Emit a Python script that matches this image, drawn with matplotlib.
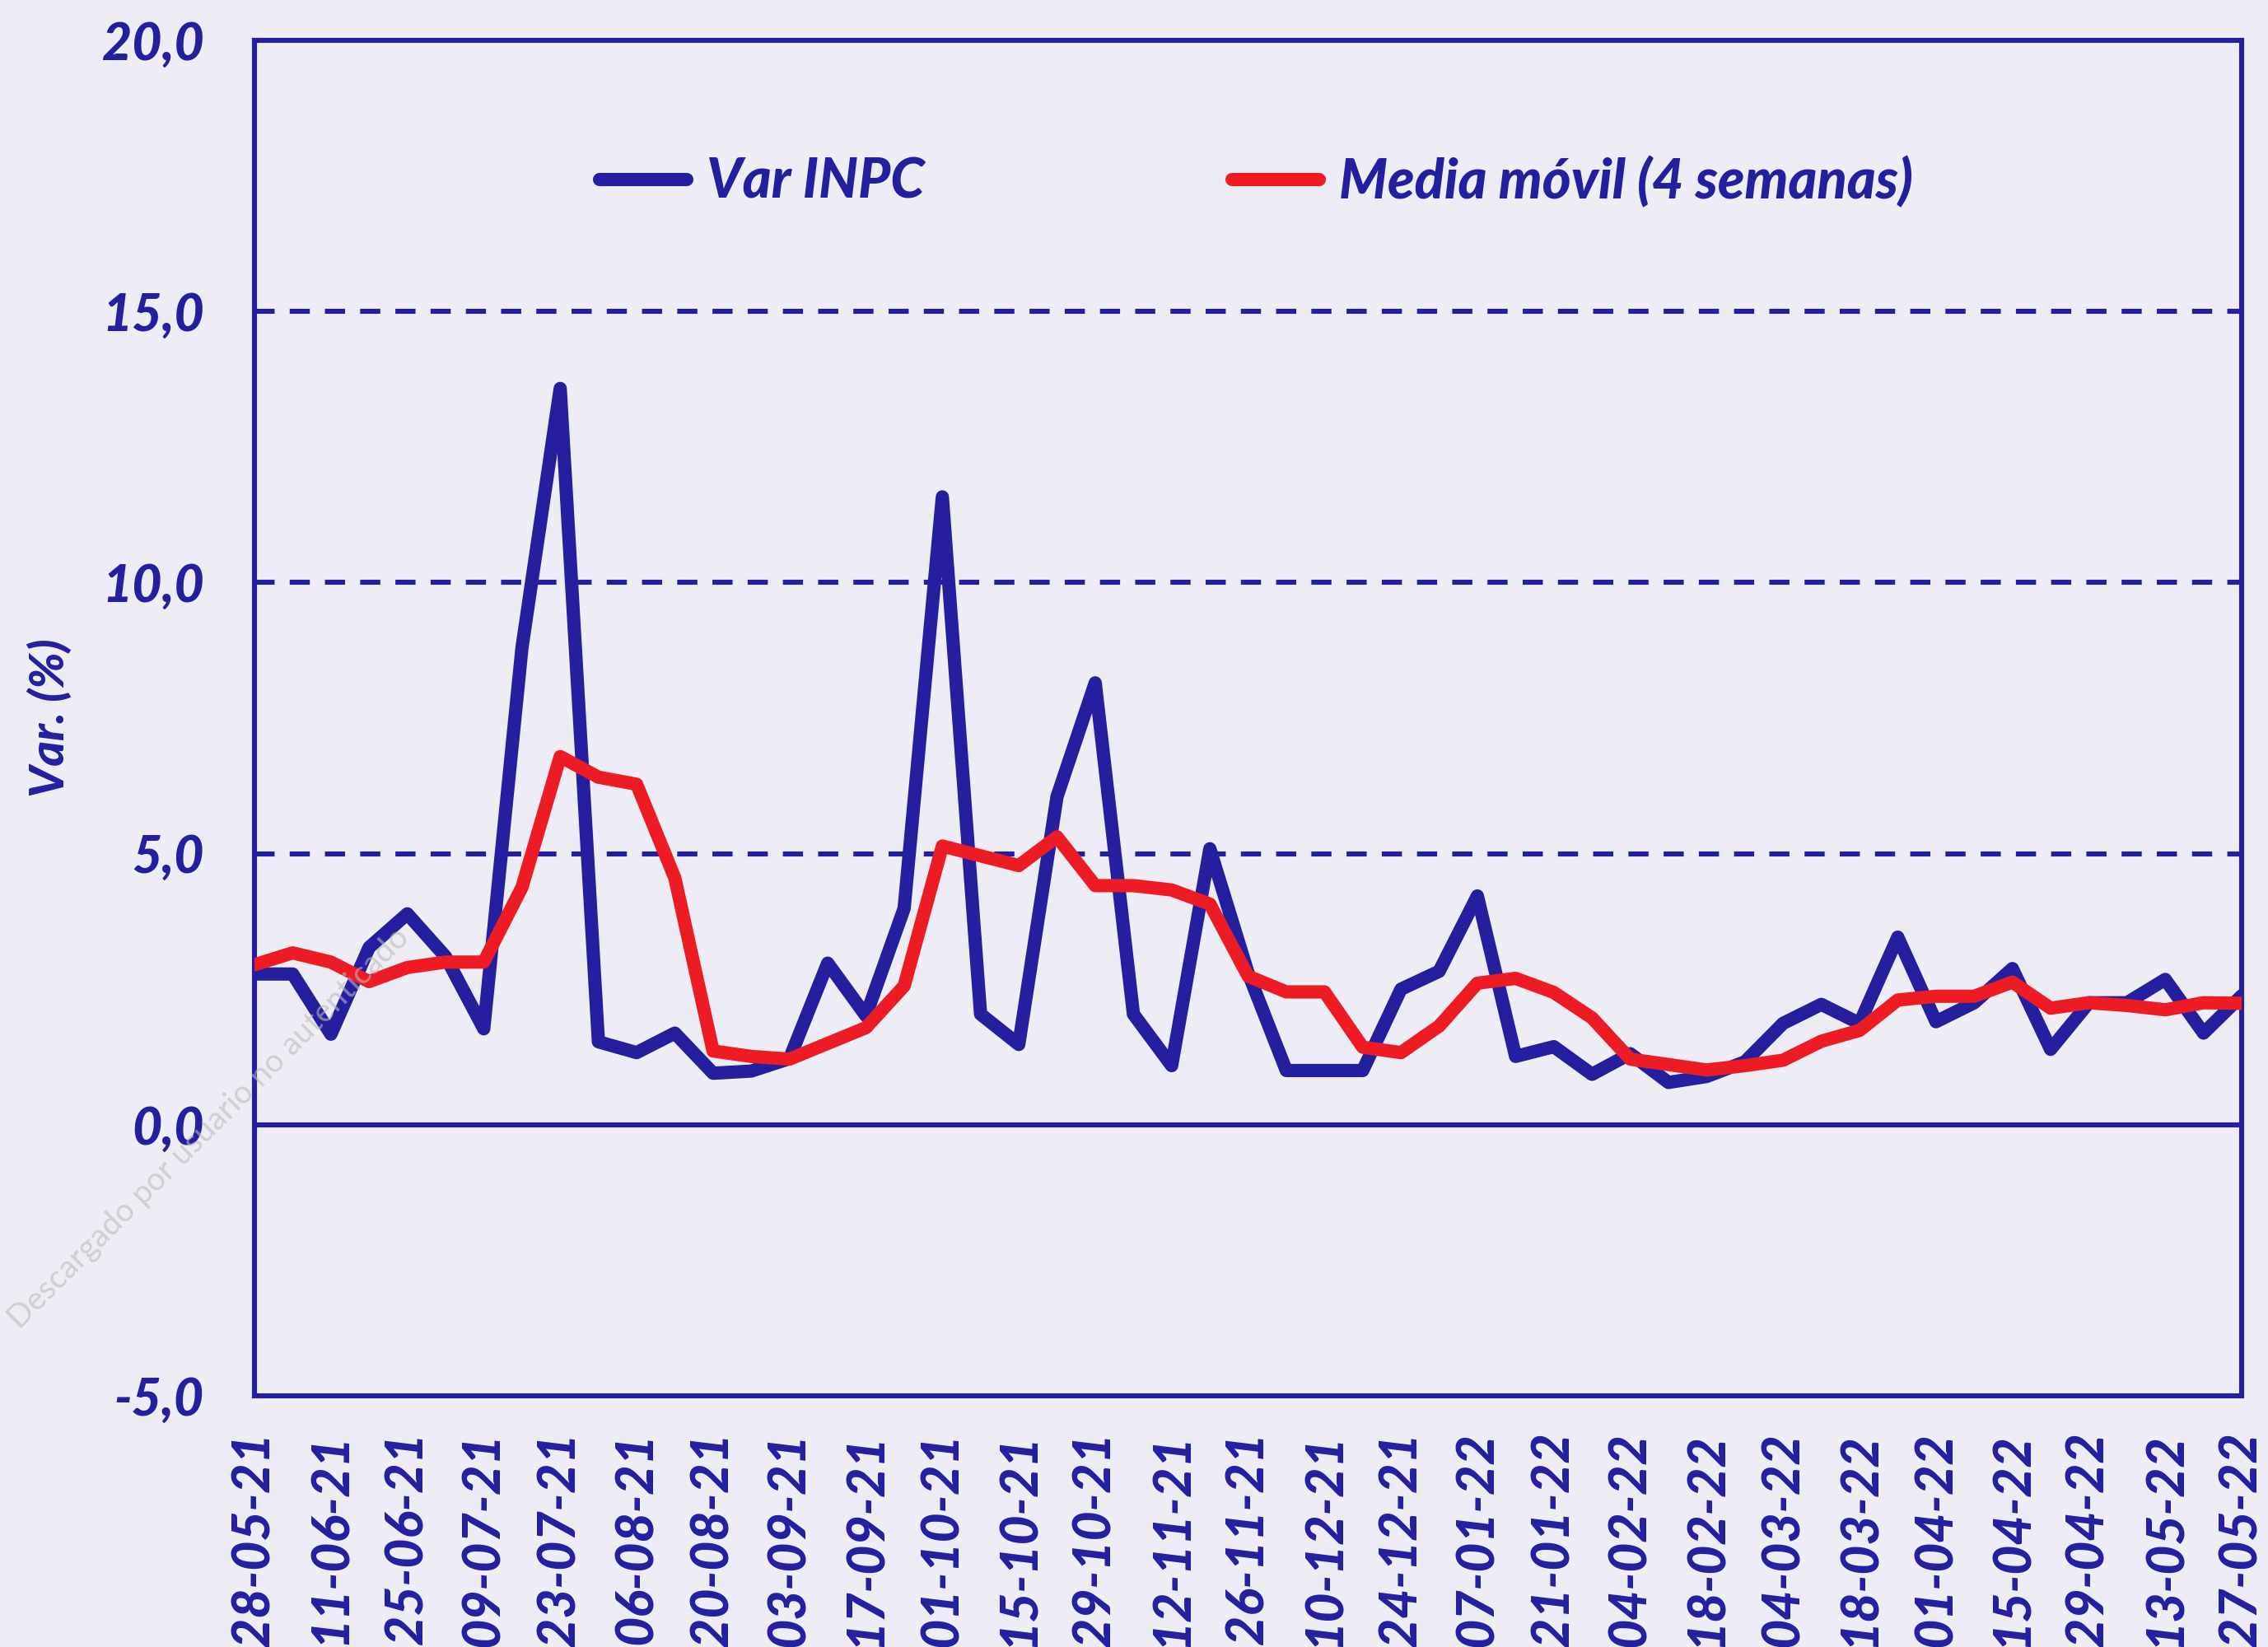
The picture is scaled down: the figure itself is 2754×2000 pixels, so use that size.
import matplotlib
matplotlib.use("Agg")
import matplotlib.pyplot as plt
import numpy as np

weeks = ["28-05-21","04-06-21","11-06-21","18-06-21","25-06-21","02-07-21","09-07-21","16-07-21",
         "23-07-21","30-07-21","06-08-21","13-08-21","20-08-21","27-08-21","03-09-21","10-09-21",
         "17-09-21","24-09-21","01-10-21","08-10-21","15-10-21","22-10-21","29-10-21","05-11-21",
         "12-11-21","19-11-21","26-11-21","03-12-21","10-12-21","17-12-21","24-12-21","31-12-21",
         "07-01-22","14-01-22","21-01-22","28-01-22","04-02-22","11-02-22","18-02-22","25-02-22",
         "04-03-22","11-03-22","18-03-22","25-03-22","01-04-22","08-04-22","15-04-22","22-04-22",
         "29-04-22","06-05-22","13-05-22","20-05-22","27-05-22"]

var_inpc = [2.78, 2.78, 1.67, 3.27, 3.89, 3.10, 1.77, 8.80, 13.58, 1.53, 1.33, 1.69, 0.95, 0.99,
            1.22, 2.98, 2.01, 3.99, 11.58, 2.04, 1.48, 6.05, 8.15, 2.04, 1.09, 5.09, 2.80, 1.00,
            1.00, 1.00, 2.50, 2.83, 4.22, 1.26, 1.44, 0.93, 1.31, 0.78, 0.89, 1.16, 1.87, 2.22,
            1.87, 3.46, 1.90, 2.25, 2.88, 1.39, 2.25, 2.25, 2.68, 1.69, 2.38]

media_movil = [2.95, 3.17, 3.00, 2.64, 2.90, 3.00, 3.00, 4.38, 6.79, 6.41, 6.28, 4.55, 1.36, 1.26,
               1.21, 1.50, 1.79, 2.56, 5.14, 4.96, 4.78, 5.31, 4.41, 4.41, 4.33, 4.07, 2.74, 2.45,
               2.45, 1.43, 1.33, 1.82, 2.61, 2.70, 2.44, 1.97, 1.21, 1.11, 1.01, 1.09, 1.19, 1.54,
               1.74, 2.30, 2.37, 2.37, 2.63, 2.15, 2.25, 2.20, 2.12, 2.25, 2.24]

yticks = [-5, 0, 5, 10, 15, 20]
ytick_labels = ["-5,0", "0,0", "5,0", "10,0", "15,0", "20,0"]

BLUE = "#231F9F"
RED = "#ED1C24"
BG = "#EEEDF6"

plt.rcParams['font.family'] = ['Lato', 'DejaVu Sans']

fig = plt.figure(figsize=(13.77, 10), dpi=200, facecolor=BG)
ax = fig.add_axes([0.1122, 0.1525, 0.8762, 0.823])
ax.set_facecolor(BG)

x = np.arange(len(weeks))
for yv in [5, 10, 15]:
    ax.axhline(yv, color=BLUE, lw=2.2, ls=(0, (4, 3)), zorder=1)
ax.axhline(0, color=BLUE, lw=2.2, zorder=1)

ax.plot(x, var_inpc, color=BLUE, lw=5.8, solid_joinstyle='round', solid_capstyle='round',
        label="Var INPC", zorder=3)
ax.plot(x, media_movil, color=RED, lw=5.8, solid_joinstyle='round', solid_capstyle='round',
        label="Media móvil (4 semanas)", zorder=4)

ax.set_xlim(0, len(weeks) - 1)
ax.set_ylim(-5, 20)
ax.set_yticks(yticks)
ax.set_yticklabels(ytick_labels)
ax.set_xticks(x[::2])
ax.set_xticklabels(weeks[::2], rotation=90)

for lab in ax.get_yticklabels() + ax.get_xticklabels():
    lab.set_fontweight('black')
    lab.set_fontstyle('italic')
    lab.set_color(BLUE)
    lab.set_fontsize(22.5)

ax.tick_params(axis='y', length=0, pad=22)
ax.tick_params(axis='x', length=0, pad=16)
for s in ax.spines.values():
    s.set_color(BLUE)
    s.set_linewidth(2.2)

ax.set_ylabel("Var. (%)", color=BLUE, fontsize=21, fontweight='black', fontstyle='italic',
              va='center')
ax.yaxis.set_label_coords(-0.1028, 0.5)

leg = ax.legend(loc='center', bbox_to_anchor=(0.504, 0.896), ncol=2, frameon=False,
                handlelength=1.6, handletextpad=0.35, columnspacing=5.6,
                prop={'size': 24, 'weight': 'black', 'style': 'italic'})
for t in leg.get_texts():
    t.set_color(BLUE)

fig.text(0.092, 0.315, "Descargado por usuario no autenticado", rotation=45, fontsize=14,
         color="#BBBBBB", alpha=0.6, ha='center', va='center', zorder=0)

fig.savefig("out.png", dpi=200, facecolor=BG)
